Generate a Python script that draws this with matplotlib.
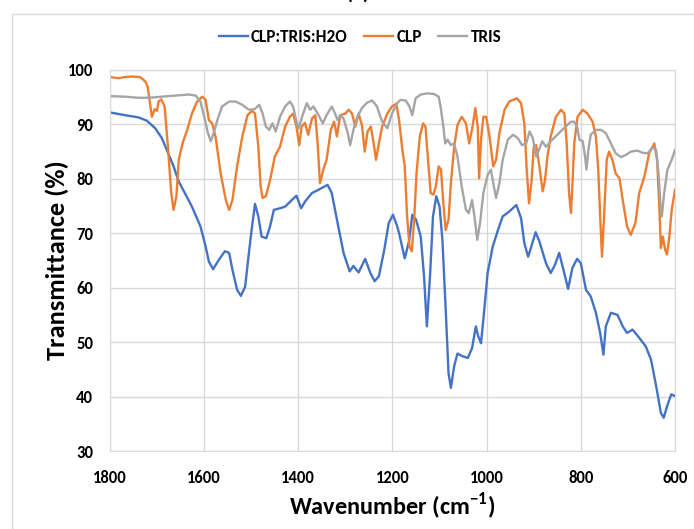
import matplotlib
matplotlib.use("Agg")
import matplotlib.pyplot as plt
from matplotlib.patches import Rectangle

# wavenumber (cm-1) and transmittance (%)
mix_wn = [1800, 1768, 1740, 1722, 1704, 1690, 1675, 1665, 1654, 1643, 1626, 1608, 1597, 1590, 1581,
          1569, 1556, 1547, 1540, 1530, 1522, 1513, 1505, 1498, 1492, 1485, 1478, 1468, 1460, 1452,
          1439, 1428, 1414, 1404, 1394, 1386, 1371, 1357, 1338, 1329, 1318, 1304, 1291, 1283, 1272,
          1258, 1247, 1238, 1229, 1218, 1208, 1199, 1190, 1186, 1174, 1165, 1158, 1150, 1140, 1133,
          1127, 1120, 1114, 1107, 1100, 1094, 1087, 1081, 1076, 1069, 1062, 1051, 1040, 1031, 1023,
          1018, 1012, 1005, 998, 987, 976, 966, 952, 937, 927, 920, 912, 905, 896, 888, 874, 864,
          855, 846, 837, 827, 818, 808, 800, 789, 779, 768, 759, 752, 747, 736, 722, 711, 702, 690,
          676, 662, 651, 640, 630, 624, 617, 608, 600]
mix_t = [92.2, 91.7, 91.3, 90.7, 89.3, 87.5, 84.4, 82.3, 79.5, 77.7, 74.9, 71.3, 67.6, 64.8, 63.4,
         65.1, 66.7, 66.4, 63.3, 59.6, 58.5, 60.2, 66.4, 71.5, 75.4, 73.1, 69.4, 69.1, 71.3, 74.3,
         74.6, 74.9, 76.1, 76.9, 74.6, 75.8, 77.4, 78.0, 78.9, 77.4, 72.5, 66.4, 63.0, 64.0, 62.8,
         65.3, 62.7, 61.2, 62.1, 66.7, 71.9, 73.4, 71.3, 70.0, 65.4, 68.5, 73.4, 72.5, 69.4, 62.1,
         52.9, 62.7, 73.1, 76.8, 74.9, 68.8, 56.0, 44.3, 41.6, 45.6, 47.9, 47.4, 47.1, 48.9, 52.9,
         51.1, 49.8, 56.0, 62.7, 67.6, 70.6, 73.1, 74.0, 75.2, 72.8, 68.2, 65.7, 67.6, 70.2, 68.5,
         64.5, 62.7, 64.2, 66.4, 63.3, 59.8, 63.6, 65.3, 64.5, 59.6, 58.4, 55.4, 51.7, 47.7, 52.9,
         55.4, 55.0, 52.9, 51.7, 52.3, 50.8, 49.2, 46.8, 41.9, 37.0, 36.1, 38.2, 40.4, 40.1]

clp_wn = [1800, 1782, 1768, 1754, 1736, 1725, 1720, 1716, 1711, 1705, 1700, 1697, 1691, 1684, 1677,
          1670, 1665, 1659, 1654, 1646, 1636, 1626, 1615, 1604, 1597, 1590, 1583, 1576, 1565, 1554,
          1547, 1540, 1530, 1519, 1508, 1498, 1492, 1485, 1480, 1476, 1469, 1460, 1450, 1439, 1428,
          1418, 1411, 1404, 1398, 1393, 1386, 1379, 1371, 1364, 1359, 1354, 1347, 1340, 1331, 1324,
          1318, 1311, 1300, 1293, 1286, 1279, 1272, 1265, 1259, 1253, 1246, 1240, 1235, 1229, 1222,
          1211, 1201, 1192, 1186, 1179, 1174, 1169, 1164, 1159, 1154, 1149, 1142, 1135, 1130, 1125,
          1119, 1113, 1108, 1102, 1097, 1092, 1087, 1081, 1076, 1069, 1062, 1053, 1044, 1037, 1030,
          1024, 1019, 1016, 1012, 1007, 1001, 994, 986, 980, 973, 962, 952, 944, 936, 927, 920, 915,
          910, 905, 900, 895, 888, 881, 876, 871, 864, 853, 842, 835, 830, 825, 821, 818, 814, 807,
          796, 786, 775, 768, 763, 759, 755, 750, 745, 740, 733, 726, 718, 711, 702, 694, 684, 676,
          665, 655, 644, 638, 633, 630, 626, 621, 617, 612, 607, 600]
clp_t = [98.7, 98.5, 98.7, 98.8, 98.7, 97.9, 96.9, 94.5, 91.4, 92.8, 92.5, 94.2, 94.6, 93.3, 85.9,
         77.4, 74.3, 76.8, 83.5, 86.5, 89.0, 92.0, 94.2, 95.1, 94.5, 90.8, 90.2, 87.8, 81.0, 76.1,
         74.3, 76.1, 82.3, 87.8, 91.7, 92.5, 92.0, 85.9, 78.6, 76.5, 76.8, 79.8, 84.1, 85.9, 89.6,
         91.4, 92.0, 89.6, 86.2, 89.6, 90.3, 88.1, 91.1, 91.7, 86.5, 79.2, 81.7, 83.5, 89.0, 90.5,
         87.8, 91.7, 92.0, 92.7, 92.0, 89.6, 92.0, 89.9, 85.0, 88.7, 89.6, 86.5, 83.5, 86.5, 89.6,
         92.0, 93.3, 93.8, 90.8, 85.3, 82.3, 73.1, 67.6, 66.7, 72.5, 81.0, 87.8, 90.2, 89.6, 84.1,
         77.4, 77.1, 78.6, 82.3, 81.7, 75.5, 70.6, 72.5, 79.2, 85.9, 89.9, 91.4, 90.2, 86.5, 89.6,
         93.0, 89.6, 80.1, 87.2, 91.4, 91.4, 87.8, 82.3, 83.5, 88.4, 92.7, 94.2, 94.5, 94.8, 93.9,
         90.2, 81.7, 75.5, 79.2, 85.9, 86.2, 82.3, 77.7, 79.8, 84.1, 87.8, 91.4, 92.7, 92.0, 86.5,
         77.4, 73.7, 78.6, 86.5, 91.4, 92.7, 92.0, 90.5, 87.8, 81.7, 73.1, 65.7, 74.3, 83.5, 85.0,
         83.5, 81.0, 80.1, 76.1, 71.3, 69.7, 71.9, 77.4, 80.4, 84.7, 86.5, 83.5, 74.3, 67.3, 69.4,
         67.0, 66.1, 69.4, 74.3, 78.0]

tris_wn = [1800, 1768, 1740, 1718, 1690, 1661, 1633, 1618, 1608, 1599, 1592, 1586, 1580, 1572, 1562,
           1547, 1533, 1519, 1505, 1493, 1483, 1476, 1469, 1462, 1455, 1448, 1439, 1428, 1418, 1411,
           1404, 1399, 1391, 1382, 1375, 1368, 1357, 1348, 1340, 1329, 1322, 1317, 1311, 1304, 1295,
           1290, 1283, 1276, 1265, 1254, 1243, 1233, 1222, 1211, 1201, 1190, 1183, 1172, 1164, 1158,
           1151, 1140, 1126, 1112, 1102, 1098, 1092, 1088, 1083, 1076, 1069, 1062, 1053, 1044, 1038,
           1031, 1026, 1020, 1014, 1007, 998, 991, 986, 980, 973, 966, 955, 944, 934, 925, 916, 909,
           902, 895, 889, 882, 874, 864, 850, 836, 821, 814, 808, 803, 796, 791, 788, 784, 779, 768,
           757, 747, 736, 726, 715, 704, 694, 680, 669, 658, 648, 640, 635, 631, 628, 623, 616, 607,
           600]
tris_t = [95.2, 95.1, 94.9, 94.9, 95.1, 95.3, 95.5, 95.3, 94.2, 91.1, 88.4, 86.9, 88.4, 90.8, 93.3,
          94.2, 94.2, 93.6, 92.7, 92.8, 93.6, 92.0, 89.6, 89.0, 90.2, 88.7, 91.4, 93.3, 94.2, 93.3,
          90.5, 89.3, 91.7, 93.9, 92.7, 93.3, 91.7, 90.2, 91.7, 93.3, 92.0, 90.8, 91.7, 91.1, 88.4,
          86.2, 89.0, 91.1, 93.0, 94.0, 94.4, 93.3, 90.5, 89.3, 92.0, 93.9, 94.5, 94.4, 93.3, 91.7,
          94.8, 95.5, 95.7, 95.6, 95.1, 93.3, 89.6, 86.5, 87.2, 86.2, 86.5, 84.1, 78.6, 74.3, 73.7,
          76.1, 73.1, 68.8, 71.9, 77.4, 80.7, 81.7, 79.2, 76.5, 79.2, 83.5, 87.2, 88.1, 87.5, 86.2,
          86.5, 88.7, 87.5, 84.1, 85.3, 86.9, 85.9, 86.9, 88.1, 89.3, 90.5, 90.5, 89.6, 87.2, 86.9,
          84.1, 81.7, 85.3, 88.1, 89.0, 89.0, 88.4, 86.5, 84.7, 84.0, 84.4, 85.0, 85.2, 84.8, 84.7,
          85.8, 85.3, 81.0, 75.5, 73.1, 77.4, 81.7, 83.5, 85.3]

labels = ["CLP:TRIS:H2O", "CLP", "TRIS"]
colors = ["#4472C4", "#ED7D31", "#A5A5A5"]
x_ticks = [1800, 1600, 1400, 1200, 1000, 800, 600]
y_ticks = [30, 40, 50, 60, 70, 80, 90, 100]

plt.rcParams["font.family"] = ["Carlito", "Liberation Sans", "DejaVu Sans"]
plt.rcParams["mathtext.fontset"] = "custom"
plt.rcParams["mathtext.bf"] = "Carlito:bold"
plt.rcParams["mathtext.rm"] = "Carlito:bold"

fig = plt.figure(figsize=(6.94, 5.29), dpi=100)
ax = fig.add_axes([110 / 694, 1 - 451 / 529, 565 / 694, 381 / 529])

# chart area border (cropped on the right and bottom)
fig.patches.append(Rectangle((12 / 694, -0.05), 1.1, 1 - 14 / 529 + 0.05, transform=fig.transFigure,
                             fill=False, edgecolor="#d9d9d9", linewidth=1.0))
fig.text(358 / 694, 1 - 3 / 529, "(a)", ha="center", va="bottom", fontsize=16, fontweight="bold")

series = [(mix_wn, mix_t), (clp_wn, clp_t), (tris_wn, tris_t)]
for (wn, t), lab, col in zip(series, labels, colors):
    ax.plot(wn, t, color=col, lw=1.7, label=lab, solid_joinstyle="round")

ax.set_xlim(1800, 600)
ax.set_ylim(30, 100)
ax.set_xticks(x_ticks)
ax.set_yticks(y_ticks)
ax.grid(True, color="#d9d9d9", lw=1.0)
ax.set_axisbelow(True)
ax.tick_params(length=0, labelsize=12)
ax.tick_params(axis="y", pad=12)
ax.tick_params(axis="x", pad=14)
for lbl in ax.get_xticklabels() + ax.get_yticklabels():
    lbl.set_fontweight("bold")
for sp in ax.spines.values():
    sp.set_color("#d9d9d9")

ax.set_xlabel("Wavenumber (cm$^{-1}$)", fontsize=17.5, fontweight="bold", labelpad=3)
ax.set_ylabel("Transmittance (%)", fontsize=19, fontweight="bold", labelpad=-1)

fig.legend(loc="center", bbox_to_anchor=(360 / 694, 1 - 37 / 529), ncol=3, frameon=False,
           handlelength=1.7, handletextpad=0.2, columnspacing=0.95,
           prop={"weight": "bold", "size": 12.3})

fig.savefig("out.png", dpi=100)
